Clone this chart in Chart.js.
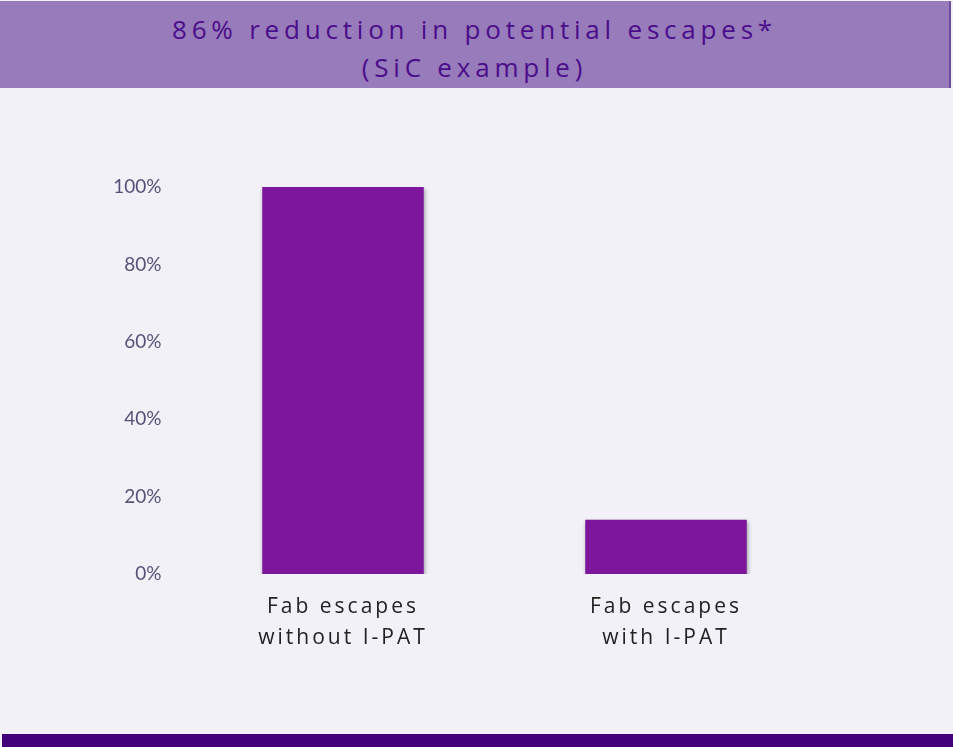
<!DOCTYPE html>
<html>
<head>
<meta charset="utf-8">
<script src="https://cdn.jsdelivr.net/npm/chart.js@4"></script>
<style>
  html, body { margin: 0; padding: 0; }
  body { width: 953px; height: 747px; position: relative; background: #f2f1f7; overflow: hidden; }
  .banner {
    position: absolute; left: 0; top: 1px; width: 951px; height: 87px;
    background: #977bba; border-right: 2px solid #6e4c9c;
    color: #4b0d8a; font-family: "Open Sans", sans-serif; font-size: 26px;
    letter-spacing: 4.8px; text-align: center; line-height: 38px; padding-top: 9px; box-sizing: border-box;
  }
  .footer { position: absolute; left: 2px; right: 0; bottom: 0; height: 13px; background: #42007a; }
  #wrap { position: absolute; left: 0; top: 0; width: 953px; height: 747px; }
</style>
</head>
<body>
<div class="banner">86% reduction in potential escapes*<br>(SiC example)</div>
<div id="wrap"><canvas id="chart"></canvas></div>
<div class="footer"></div>
<script>
const categories = [['Fab escapes', 'without I-PAT'], ['Fab escapes', 'with I-PAT']];
const escapeShare = [100, 14];
const yTicks = [0, 20, 40, 60, 80, 100];

// soft drop shadow under the bars
const barShadow = {
  id: 'barShadow',
  beforeDatasetsDraw(chart) {
    const ctx = chart.ctx;
    ctx.save();
    ctx.shadowColor = 'rgba(0,0,0,0.35)';
    ctx.shadowBlur = 4;
    ctx.shadowOffsetX = 1;
    ctx.shadowOffsetY = 2;
  },
  afterDatasetsDraw(chart) {
    chart.ctx.restore();
    // spaced lettering for the category labels (drawn on a later layer)
    chart.ctx.letterSpacing = '3px';
  },
  afterDraw(chart) {
    chart.ctx.letterSpacing = '0px';
  }
};

new Chart(document.getElementById('chart').getContext('2d'), {
  type: 'bar',
  data: {
    labels: categories,
    datasets: [{
      data: escapeShare,
      backgroundColor: '#7d169c',
      borderWidth: 0,
      barPercentage: 0.5,
      categoryPercentage: 1
    }]
  },
  options: {
    responsive: true,
    maintainAspectRatio: false,
    animation: false,
    layout: { padding: { top: 187, left: 81.5, right: 125.5, bottom: 73 } },
    plugins: { legend: { display: false }, tooltip: { enabled: false } },
    scales: {
      x: {
        grid: { display: false, drawTicks: false },
        border: { display: false },
        afterFit(scale) { scale.height = 100; },
        ticks: {
          z: 1,
          padding: 17,
          color: '#222222',
          font: { family: 'Open Sans', size: 21, lineHeight: 1.48 }
        }
      },
      y: {
        min: 0,
        max: 100,
        grid: { display: false, drawTicks: false },
        border: { display: false },
        afterFit(scale) { scale.width = 100; },
        afterBuildTicks(scale) { scale.ticks = yTicks.map(v => ({ value: v })); },
        ticks: {
          padding: 20,
          color: '#55537a',
          font: { family: 'Lato', size: 19 },
          callback: v => v + '%'
        }
      }
    }
  },
  plugins: [barShadow]
});
</script>
</body>
</html>
